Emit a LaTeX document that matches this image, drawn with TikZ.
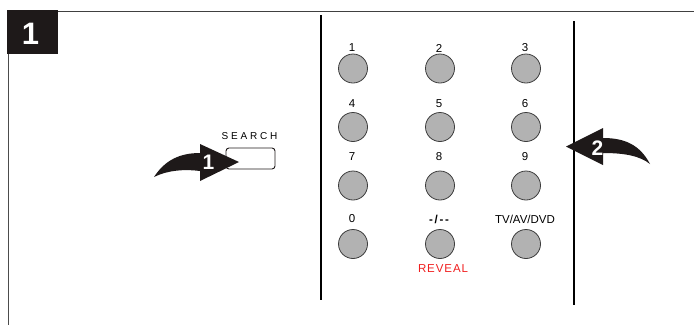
\documentclass[tikz,border=0pt]{standalone}
\usepackage{fontspec}
\setmainfont{Liberation Sans}
\definecolor{btngray}{RGB}{178,178,178}
\definecolor{btnline}{RGB}{60,60,60}
\definecolor{revred}{RGB}{240,30,30}
\definecolor{darkblk}{RGB}{30,25,25}
\newcommand{\dashlab}{{\bfseries\addfontfeatures{LetterSpace=15}{-}/{-}{-}}}
\begin{document}
\begin{tikzpicture}[x=1pt,y=-1pt,
  btn/.style={circle,draw=btnline,line width=0.8pt,fill=btngray,minimum size=29pt,inner sep=0pt},
  lbl/.style={inner sep=0pt,font=\fontsize{11.5}{12}\selectfont},
  arrowshape/.style={fill=darkblk,draw=none},
  arrnum/.style={inner sep=0pt,text=white,font=\fontsize{21}{21}\selectfont\bfseries}]
\useasboundingbox (0,0) rectangle (694,325);
% frame
\fill[darkblk] (7,10) rectangle (58,54);
\node[inner sep=0pt,text=white,font=\fontsize{31}{31}\selectfont\bfseries] (stepnum) at (30.5,34) {1};
\draw[line width=1.3pt,color=black!75] (58,11.5) -- (694,11.5);
\draw[line width=1pt,color=black!70] (8,54) -- (8,325);
% panel lines
\draw[line width=2.2pt] (321,15) -- (321,300);
\draw[line width=2.2pt] (574,21) -- (574,305);
% buttons
\foreach \name/\lab/\x/\y/\ly in {b1/1/353/68.5/48, b2/2/440/68.5/48, b3/3/526/68.5/48,
  b4/4/353/127/104, b5/5/440/127/104, b6/6/526/127/104,
  b7/7/353/185.5/157, b8/8/440/185.5/157, b9/9/526/185.5/157,
  b0/0/353/244/219, bdash/{\dashlab}/440/244/219, btv/{TV/AV/DVD}/526/244/219}{
  \node[btn] (\name) at (\x,\y) {};
  \node[lbl] (\name lab) at (\x-1,\ly) {\lab};
}
\node[lbl,text=revred,font=\fontsize{11.5}{12}\selectfont\addfontfeatures{LetterSpace=8}] (reveal) at (443,269) {REVEAL};
% search button
\node[draw=darkblk,line width=0.9pt,rounded corners=3pt,minimum width=49pt,minimum height=21pt,inner sep=0pt] (search) at (250.5,158.5) {};
\node[inner sep=0pt,font=\fontsize{10}{10}\selectfont\addfontfeatures{LetterSpace=28}] (searchlab) at (249.5,136.5) {SEARCH};
% arrow 1
\fill[arrowshape] (154,177) .. controls (165,160) and (180,153) .. (200,153) -- (200,144) -- (239,162) -- (200,181) -- (200,171) .. controls (185,169) and (168,170) .. (154,177) -- cycle;
\node[arrnum] (a1) at (208.5,162.5) {1};
% arrow 2
\fill[arrowshape] (650,164) .. controls (640,145) and (625,138) .. (603,138) -- (603,128) -- (566,146.5) -- (603,165) -- (603,153) .. controls (625,153) and (640,156) .. (650,164) -- cycle;
\node[arrnum] (a2) at (597.5,148) {2};
\end{tikzpicture}
\end{document}
